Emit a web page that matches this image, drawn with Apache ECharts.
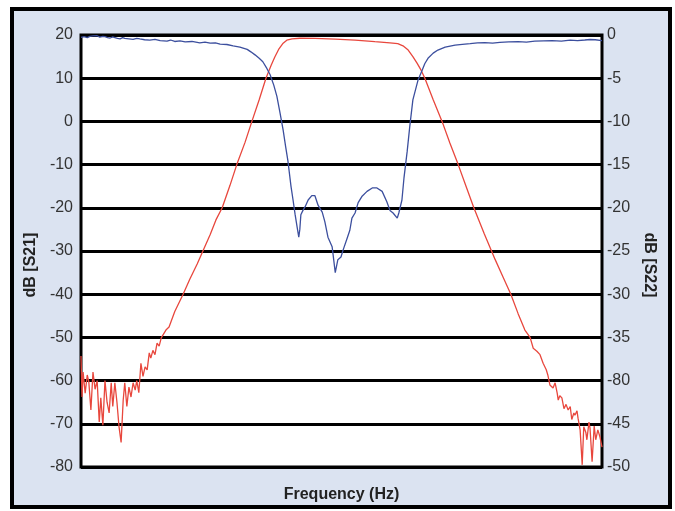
<!DOCTYPE html>
<html><head><meta charset="utf-8">
<script src="https://cdn.jsdelivr.net/npm/echarts@6/dist/echarts.min.js"></script>
<style>html,body{margin:0;padding:0;background:#fff}#c{width:675px;height:511px}</style>
</head><body><div id="c"></div>
<script>
// S21 (red, left axis)
const s21Freq = [0.0,0.2,0.4,0.8,1.2,1.5,1.9,2.3,2.7,3.1,3.5,3.8,4.2,4.6,5.0,5.4,5.8,6.1,6.5,6.9,7.3,7.7,8.1,8.4,8.8,9.2,9.6,10.0,10.4,10.7,11.1,11.5,11.9,12.3,12.7,13.1,13.4,13.8,14.2,14.6,15.0,15.4,15.7,16.3,16.9,18.0,19.6,20.9,22.3,23.4,24.8,25.9,27.1,28.6,29.9,31.5,32.8,34.2,35.5,36.5,37.2,38.0,38.8,39.5,40.5,42.0,44.9,48.8,52.6,56.4,59.3,60.8,61.8,62.8,63.7,64.5,65.3,66.0,67.6,69.3,70.8,72.4,73.9,75.4,77.4,79.5,81.0,82.5,83.9,85.2,86.2,86.8,87.5,88.1,88.7,89.3,89.6,90.0,90.6,91.0,91.4,91.6,91.9,92.3,92.7,93.1,93.5,93.9,94.2,94.6,94.8,95.2,95.4,95.8,96.2,96.5,96.9,97.1,97.5,97.7,98.1,98.5,98.8,99.2,99.6,100];
const s21 = [-54.3,-63.8,-58,-62.9,-58.7,-60.3,-66.8,-58,-62,-60,-69.6,-64,-70.3,-60,-65,-67.5,-60.5,-66,-60.5,-65,-70.7,-74.3,-64.5,-60.5,-66,-61.5,-63.8,-60.5,-62.2,-60,-62.8,-56,-59,-56.8,-57.5,-53.6,-54.8,-53,-54,-51.3,-52,-50.1,-49.8,-48.3,-47.6,-44,-40,-36.5,-33,-30,-26.2,-22.8,-20,-14.8,-10,-4.8,0,5,10,13,14.9,16.8,18.1,18.8,19.1,19.25,19.2,19.05,18.8,18.45,18.2,18.0,17.5,16.5,15.0,13.5,11.8,10,5,0,-5,-10,-15,-20,-26,-32,-36,-40,-44.5,-48.3,-50,-52.5,-53.2,-54,-56,-57.5,-58.7,-61,-61.7,-60.5,-62.9,-64.5,-63.5,-64,-66.5,-65.5,-66.8,-66,-69,-67.5,-68,-67,-68.7,-71.4,-79.5,-70.7,-72,-73.7,-69.6,-71,-78.8,-70.5,-73.7,-71.4,-73,-75.4];
// S22 (blue, right axis)
const s22Freq = [0,0.6,1.2,1.7,2.3,3.1,3.6,4.2,4.6,5.1,5.6,6.1,6.5,7.0,7.5,8.0,8.4,9.2,10.0,10.7,11.3,12.2,13.2,14.2,15.2,16.5,17.2,18.0,19.0,20.0,21.3,22.8,23.8,24.8,25.8,26.7,28.0,29.2,30.5,31.9,32.6,33.4,34.2,34.9,35.7,36.3,37.0,37.6,38.2,38.8,39.3,39.7,40.3,40.7,41.1,41.5,41.8,42.0,42.2,42.6,43.0,43.6,44.3,44.9,45.5,46.3,46.8,47.4,48.2,48.8,49.3,49.9,50.3,51.1,51.6,52.0,52.6,53.2,53.9,54.9,55.9,56.8,57.8,58.7,59.3,59.9,60.7,61.0,61.6,62.0,62.6,63.1,63.7,64.7,65.5,66.0,66.6,67.6,68.5,69.9,71.8,73.2,74.7,76.1,77.5,79.0,80.4,82.1,83.9,85.5,87.1,88.8,90.4,92.2,93.9,95.3,96.7,97.7,98.7,100];
const s22 = [-0.27,-0.18,-0.3,-0.15,-0.1,-0.08,-0.25,-0.15,-0.2,-0.3,-0.35,-0.22,-0.3,-0.4,-0.45,-0.3,-0.4,-0.45,-0.5,-0.38,-0.45,-0.55,-0.6,-0.5,-0.65,-0.7,-0.58,-0.75,-0.68,-0.8,-0.75,-0.9,-0.82,-0.95,-0.9,-1.05,-1.1,-1.27,-1.4,-1.66,-1.95,-2.3,-2.7,-3.1,-3.9,-4.6,-5.8,-7.1,-9,-11,-13,-14.5,-17.5,-19.1,-20.8,-22.3,-23.4,-22.5,-20.8,-20.3,-19.9,-19.1,-18.6,-18.6,-19.7,-20.5,-21.6,-23.4,-24.5,-27.5,-26,-25.7,-24.9,-23.5,-22.6,-21.2,-20.6,-19.4,-18.7,-18.1,-17.7,-17.7,-18.1,-19.3,-20.3,-20.6,-21.2,-20.6,-19.1,-16.5,-13.5,-10.6,-7.5,-5.2,-4.05,-3.3,-2.7,-2.1,-1.74,-1.4,-1.16,-1.08,-1.0,-0.92,-0.89,-0.95,-0.85,-0.8,-0.77,-0.82,-0.72,-0.68,-0.66,-0.7,-0.6,-0.64,-0.58,-0.52,-0.55,-0.66];
// tick labels (right axis as printed, including the original's "-80")
const rightTickLabels = ['0','-5','-10','-15','-20','-25','-30','-35','-80','-45','-50'];

const zip = (a, b) => a.map((x, i) => [x, b[i]]);
const chart = echarts.init(document.getElementById('c'), null, {renderer: 'canvas'});
const lblFont = {fontFamily: 'Liberation Sans, Arial, sans-serif', fontSize: 16, color: '#333'};
const nameFont = {fontFamily: 'Liberation Sans, Arial, sans-serif', fontSize: 16, fontWeight: 'bold', color: '#222'};
chart.setOption({
  animation: false,
  graphic: [{type: 'rect', z: -10, shape: {x: 12, y: 9, width: 658, height: 498}, style: {fill: '#dbe3f1', stroke: '#000', lineWidth: 4}}],
  grid: {left: 81, right: 73, top: 35, bottom: 44, show: true, backgroundColor: '#fff', borderColor: '#000', borderWidth: 3, z: 0},
  xAxis: {type: 'value', min: 0, max: 100, name: 'Frequency (Hz)', nameLocation: 'middle', nameGap: 20, nameTextStyle: nameFont,
    axisLine: {show: false}, axisTick: {show: false}, axisLabel: {show: false}, splitLine: {show: false}},
  yAxis: [
    {type: 'value', min: -80, max: 20, interval: 10, position: 'left', name: 'dB [S21]', nameLocation: 'middle', nameGap: 38,
      nameTextStyle: Object.assign({padding: [0, 28, 0, 0]}, nameFont),
      axisLine: {show: false}, axisTick: {show: false}, axisLabel: Object.assign({margin: 8}, lblFont),
      splitLine: {show: true, lineStyle: {color: '#000', width: 3}}},
    {type: 'value', min: -50, max: 0, interval: 5, position: 'right', name: 'dB [S22]', nameLocation: 'middle', nameGap: 36, nameRotate: -90,
      nameTextStyle: Object.assign({padding: [0, 0, 0, 28]}, nameFont),
      axisLine: {show: false}, axisTick: {show: false},
      axisLabel: Object.assign({margin: 5, formatter: v => rightTickLabels[Math.round(-v / 5)]}, lblFont),
      splitLine: {show: false}}
  ],
  series: [
    {name: 'S21', type: 'line', yAxisIndex: 0, data: zip(s21Freq, s21), showSymbol: false, lineStyle: {color: '#e8473d', width: 1.3}, itemStyle: {color: '#e8473d'}, z: 3},
    {name: 'S22', type: 'line', yAxisIndex: 1, data: zip(s22Freq, s22), showSymbol: false, lineStyle: {color: '#3c4f9e', width: 1.3}, itemStyle: {color: '#3c4f9e'}, z: 4}
  ]
});
</script></body></html>
